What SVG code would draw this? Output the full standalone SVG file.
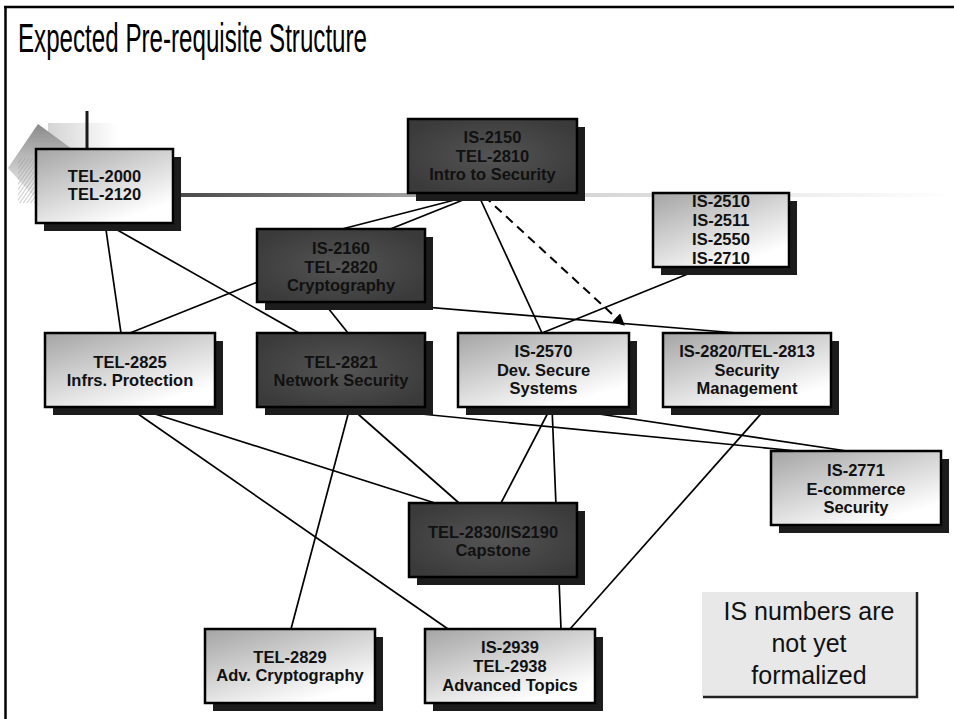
<svg xmlns="http://www.w3.org/2000/svg" width="954" height="719" viewBox="0 0 954 719">
<defs>
<style>
.shadow{fill:#1c1c1c}
.light{fill:url(#gLight);stroke:#000;stroke-width:2.5}
.dark{fill:url(#gDark);stroke:#000;stroke-width:2.5}
.lbl{font-family:"Liberation Sans",Arial,sans-serif;font-weight:bold;font-size:16.5px;fill:#111;text-anchor:middle}
.conn{stroke:#000;stroke-width:1.7;fill:none}
.dash{stroke:#000;stroke-width:2;fill:none;stroke-dasharray:9 6}
.note{font-family:"Liberation Sans",Arial,sans-serif;font-size:25px;fill:#111;text-anchor:middle}
</style>
<linearGradient id="gLight" x1="0" y1="0" x2="0.65" y2="0.95">
<stop offset="0" stop-color="#a4a4a4"/>
<stop offset="1" stop-color="#ffffff"/>
</linearGradient>
<radialGradient id="gDark" cx="0.5" cy="0.5" r="0.6">
<stop offset="0" stop-color="#545454"/>
<stop offset="1" stop-color="#3a3a3a"/>
</radialGradient>
<linearGradient id="gBar" x1="0" y1="0" x2="1" y2="0">
<stop offset="0" stop-color="#4a4a4a"/>
<stop offset="0.45" stop-color="#cfcfcf"/>
<stop offset="1" stop-color="#ffffff"/>
</linearGradient>
<linearGradient id="gDiamond" x1="0" y1="0" x2="0" y2="1">
<stop offset="0" stop-color="#8a8a8a"/>
<stop offset="1" stop-color="#ffffff"/>
</linearGradient>
<linearGradient id="gSq" x1="0" y1="0" x2="1" y2="0">
<stop offset="0" stop-color="#d4d4d4"/>
<stop offset="1" stop-color="#ffffff"/>
</linearGradient>
<pattern id="hatch" width="3" height="3" patternUnits="userSpaceOnUse" patternTransform="rotate(35)">
<line x1="0" y1="0" x2="0" y2="3" stroke="#9a9a9a" stroke-width="1"/>
</pattern>
<marker id="arrow" viewBox="0 0 10 10" refX="9" refY="5" markerWidth="6" markerHeight="6" orient="auto" markerUnits="strokeWidth">
<path d="M0,0 L10,5 L0,10 z" fill="#000"/>
</marker>
</defs>
<rect width="954" height="719" fill="#fff"/>
<!-- frame -->
<line x1="4" y1="7" x2="954" y2="7" stroke="#000" stroke-width="2.5"/>
<line x1="5.5" y1="6" x2="5.5" y2="719" stroke="#000" stroke-width="2.5"/>
<text x="18" y="52" font-family="'Liberation Sans',Arial,sans-serif" font-size="40" fill="#000" textLength="349" lengthAdjust="spacingAndGlyphs">Expected Pre-requisite Structure</text>
<!-- decoration -->
<g id="decoration">
<rect x="48" y="123" width="70" height="28" fill="url(#gSq)"/>
<polygon points="38,124 76,152 42,206 8,168" fill="url(#gDiamond)"/>
<rect x="18" y="158" width="18" height="45" fill="url(#hatch)"/>
<line x1="87" y1="111" x2="87" y2="150" stroke="#1a1a1a" stroke-width="3"/>
<rect x="181" y="193" width="773" height="4" fill="url(#gBar)"/>
</g>
<!-- connectors -->
<g id="connectors">
<line class="conn" x1="478" y1="194" x2="342" y2="229"/>
<line class="conn" x1="478" y1="194" x2="130" y2="333"/>
<line class="conn" x1="478" y1="194" x2="542" y2="333"/>
<line class="dash" x1="484" y1="196" x2="624" y2="325" marker-end="url(#arrow)"/>
<line class="conn" x1="105" y1="223" x2="121" y2="333"/>
<line class="conn" x1="105" y1="223" x2="299" y2="333"/>
<line class="conn" x1="320" y1="298" x2="348" y2="333"/>
<line class="conn" x1="341" y1="300" x2="737" y2="333"/>
<line class="conn" x1="705" y1="267" x2="542" y2="333"/>
<line class="conn" x1="133" y1="407" x2="435" y2="503"/>
<line class="conn" x1="128" y1="407" x2="448" y2="629"/>
<line class="conn" x1="350" y1="407" x2="291" y2="629"/>
<line class="conn" x1="350" y1="407" x2="459" y2="503"/>
<line class="conn" x1="350" y1="407" x2="797" y2="451"/>
<line class="conn" x1="551" y1="407" x2="501" y2="503"/>
<line class="conn" x1="552" y1="407" x2="561" y2="629"/>
<line class="conn" x1="552" y1="407" x2="847" y2="451"/>
<line class="conn" x1="767" y1="407" x2="570" y2="629"/>
</g>
<!-- nodes -->
<g id="tel2000">
<rect class="shadow" x="44" y="157" width="137" height="74"/>
<rect class="light" x="36" y="149" width="137" height="74"/>
<text class="lbl" x="104.5" y="182">TEL-2000</text>
<text class="lbl" x="104.5" y="200">TEL-2120</text>
</g>
<g id="is2150">
<rect class="shadow" x="416" y="127" width="169" height="74"/>
<rect class="dark" x="408" y="119" width="169" height="74"/>
<text class="lbl" x="492.5" y="143">IS-2150</text>
<text class="lbl" x="492.5" y="162">TEL-2810</text>
<text class="lbl" x="492.5" y="180">Intro to Security</text>
</g>
<g id="is2510">
<rect class="shadow" x="661" y="201" width="136" height="74"/>
<rect class="light" x="653" y="193" width="136" height="74"/>
<text class="lbl" x="721" y="207">IS-2510</text>
<text class="lbl" x="721" y="226">IS-2511</text>
<text class="lbl" x="721" y="245">IS-2550</text>
<text class="lbl" x="721" y="264">IS-2710</text>
</g>
<g id="is2160">
<rect class="shadow" x="265" y="237" width="168" height="73"/>
<rect class="dark" x="257" y="229" width="168" height="73"/>
<text class="lbl" x="341" y="254">IS-2160</text>
<text class="lbl" x="341" y="273">TEL-2820</text>
<text class="lbl" x="341" y="291">Cryptography</text>
</g>
<g id="tel2825">
<rect class="shadow" x="53" y="341" width="170" height="74"/>
<rect class="light" x="45" y="333" width="170" height="74"/>
<text class="lbl" x="130" y="368">TEL-2825</text>
<text class="lbl" x="130" y="386">Infrs. Protection</text>
</g>
<g id="tel2821">
<rect class="shadow" x="265" y="341" width="168" height="74"/>
<rect class="dark" x="257" y="333" width="168" height="74"/>
<text class="lbl" x="341" y="368">TEL-2821</text>
<text class="lbl" x="341" y="386">Network Security</text>
</g>
<g id="is2570">
<rect class="shadow" x="466" y="341" width="171" height="74"/>
<rect class="light" x="458" y="333" width="171" height="74"/>
<text class="lbl" x="543.5" y="357">IS-2570</text>
<text class="lbl" x="543.5" y="376">Dev. Secure</text>
<text class="lbl" x="543.5" y="394">Systems</text>
</g>
<g id="is2820">
<rect class="shadow" x="671" y="341" width="168" height="74"/>
<rect class="light" x="663" y="333" width="168" height="74"/>
<text class="lbl" x="747" y="357">IS-2820/TEL-2813</text>
<text class="lbl" x="747" y="376">Security</text>
<text class="lbl" x="747" y="394">Management</text>
</g>
<g id="is2771">
<rect class="shadow" x="779" y="459" width="170" height="74"/>
<rect class="light" x="771" y="451" width="170" height="74"/>
<text class="lbl" x="856" y="476">IS-2771</text>
<text class="lbl" x="856" y="495">E-commerce</text>
<text class="lbl" x="856" y="513">Security</text>
</g>
<g id="capstone">
<rect class="shadow" x="417" y="511" width="168" height="74"/>
<rect class="dark" x="409" y="503" width="168" height="74"/>
<text class="lbl" x="493" y="538">TEL-2830/IS2190</text>
<text class="lbl" x="493" y="556">Capstone</text>
</g>
<g id="tel2829">
<rect class="shadow" x="213" y="637" width="170" height="74"/>
<rect class="light" x="205" y="629" width="170" height="74"/>
<text class="lbl" x="290" y="663">TEL-2829</text>
<text class="lbl" x="290" y="681">Adv. Cryptography</text>
</g>
<g id="is2939">
<rect class="shadow" x="433" y="637" width="170" height="74"/>
<rect class="light" x="425" y="629" width="170" height="74"/>
<text class="lbl" x="510" y="653">IS-2939</text>
<text class="lbl" x="510" y="672">TEL-2938</text>
<text class="lbl" x="510" y="691">Advanced Topics</text>
</g>
<g id="note">
<rect x="702" y="592" width="215" height="105" fill="#e8e8e8"/>
<polyline points="917,592 917,697 703,697" fill="none" stroke="#222" stroke-width="2.5"/>
<text class="note" x="809" y="620">IS numbers are</text>
<text class="note" x="809" y="652">not yet</text>
<text class="note" x="809" y="684">formalized</text>
</g>
</svg>
